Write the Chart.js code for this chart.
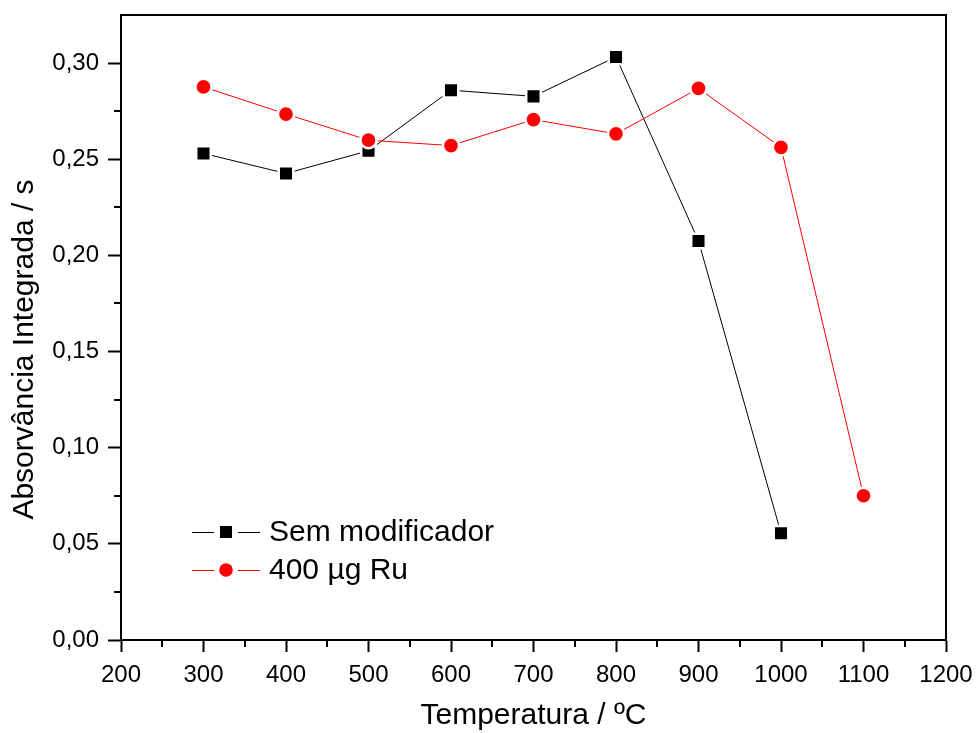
<!DOCTYPE html>
<html>
<head>
<meta charset="utf-8">
<script src="https://cdn.jsdelivr.net/npm/chart.js@4/dist/chart.umd.min.js"></script>
<style>
  html, body { margin: 0; padding: 0; background: #ffffff; }
  #wrap { width: 976px; height: 733px; }
</style>
</head>
<body>
<div id="wrap"><canvas id="c" width="976" height="733"></canvas></div>
<script>
// ---- data ----
const temperatures = [300, 400, 500, 600, 700, 800, 900, 1000, 1100];
const semModificador = [0.253, 0.2426, 0.2544, 0.2859, 0.2827, 0.3032, 0.2075, 0.0555, null];
const ru400 = [0.2876, 0.2735, 0.2599, 0.2571, 0.2706, 0.2632, 0.2868, 0.2562, 0.0750];
const seriesLabels = ['Sem modificador', '400 \u00B5g Ru'];
const xTickValues = [200, 300, 400, 500, 600, 700, 800, 900, 1000, 1100, 1200];
const yTickValues = [0.00, 0.05, 0.10, 0.15, 0.20, 0.25, 0.30];
const xTitle = 'Temperatura / \u00BAC';
const yTitle = 'Absorv\u00E2ncia Integrada / s';

const FONT = 'Arial, "Liberation Sans", Helvetica, sans-serif';

function toPoints(xs, ys) {
  const out = [];
  xs.forEach((x, i) => { if (ys[i] !== null && ys[i] !== undefined) out.push({x: x, y: ys[i]}); });
  return out;
}

const framePlugin = {
  id: 'frame',
  afterDraw(chart) {
    const ctx = chart.ctx;
    const a = chart.chartArea;
    ctx.save();
    ctx.strokeStyle = '#000';
    ctx.lineWidth = 2;
    ctx.strokeRect(a.left, a.top, a.right - a.left, a.bottom - a.top);
    // minor ticks at midpoints
    const xs = chart.scales.x, ys = chart.scales.y;
    for (let i = 0; i < xTickValues.length - 1; i++) {
      const v = (xTickValues[i] + xTickValues[i + 1]) / 2;
      const px = Math.round(xs.getPixelForValue(v));
      ctx.beginPath(); ctx.moveTo(px, a.bottom); ctx.lineTo(px, a.bottom + 7); ctx.stroke();
    }
    for (let i = 0; i < yTickValues.length - 1; i++) {
      const v = (yTickValues[i] + yTickValues[i + 1]) / 2;
      const py = Math.round(ys.getPixelForValue(v));
      ctx.beginPath(); ctx.moveTo(a.left, py); ctx.lineTo(a.left - 7, py); ctx.stroke();
    }
    // y axis title (placed slightly below the axis centre, as in the original)
    ctx.fillStyle = '#000';
    ctx.font = '30px ' + FONT;
    ctx.textAlign = 'center';
    ctx.textBaseline = 'middle';
    ctx.translate(25, (a.top + a.bottom) / 2 + 22);
    ctx.rotate(-Math.PI / 2);
    ctx.fillText(yTitle, 0, 0);
    ctx.restore();
  }
};

const legendPlugin = {
  id: 'insideLegend',
  afterDraw(chart) {
    const ctx = chart.ctx;
    const a = chart.chartArea;
    const x0 = a.left + 71;
    const rows = [a.bottom - 108, a.bottom - 70];
    ctx.save();
    chart.data.datasets.forEach((ds) => {
      const y = rows[ds.legendRow];
      ctx.strokeStyle = ds.borderColor;
      ctx.lineWidth = 1;
      ctx.beginPath();
      ctx.moveTo(x0, y + 0.5); ctx.lineTo(x0 + 22, y + 0.5);
      ctx.moveTo(x0 + 46, y + 0.5); ctx.lineTo(x0 + 68, y + 0.5);
      ctx.stroke();
      ctx.fillStyle = ds.pointBackgroundColor;
      const cx = x0 + 34;
      if (ds.pointStyle === 'rect') {
        ctx.fillRect(cx - 6, y - 6, 12, 12);
      } else {
        ctx.beginPath(); ctx.arc(cx, y, 6.8, 0, Math.PI * 2); ctx.fill();
      }
      ctx.fillStyle = '#000';
      ctx.font = '30px ' + FONT;
      ctx.textBaseline = 'middle';
      ctx.textAlign = 'left';
      ctx.fillText(ds.label, x0 + 77, y + 1);
    });
    ctx.restore();
  }
};

new Chart(document.getElementById('c'), {
  type: 'line',
  data: {
    datasets: [
      {
        label: seriesLabels[0],
        data: toPoints(temperatures, semModificador),
        borderColor: '#000000',
        borderWidth: 1,
        pointStyle: 'rect',
        pointRadius: 10.3,
        pointBackgroundColor: '#000000',
        pointBorderColor: '#ffffff',
        pointBorderWidth: 2.5,
        order: 1,
        legendRow: 0,
        tension: 0
      },
      {
        label: seriesLabels[1],
        data: toPoints(temperatures, ru400),
        borderColor: '#ff0000',
        borderWidth: 1,
        pointStyle: 'circle',
        pointRadius: 8.1,
        pointBackgroundColor: '#ff0000',
        pointBorderColor: '#ffffff',
        pointBorderWidth: 2.5,
        order: 0,
        legendRow: 1,
        tension: 0
      }
    ]
  },
  options: {
    responsive: false,
    animation: false,
    events: [],
    layout: { padding: { top: 15, right: 30, left: 0, bottom: 0 } },
    plugins: { legend: { display: false }, tooltip: { enabled: false } },
    scales: {
      x: {
        type: 'linear',
        min: 200, max: 1200,
        afterBuildTicks(s) { s.ticks = xTickValues.map(v => ({value: v})); },
        afterFit(s) { s.height = 93; s.paddingLeft = 0; s.paddingRight = 0; s.paddingTop = 0; s.paddingBottom = 0; },
        grid: { drawOnChartArea: false, drawTicks: true, tickLength: 12, tickWidth: 2, tickColor: '#000' },
        border: { display: true, color: '#000', width: 2 },
        ticks: { color: '#000', font: { family: FONT, size: 24 }, padding: 9, maxRotation: 0, autoSkip: false,
          callback: v => String(v) },
        title: { display: true, text: xTitle, color: '#000', font: { family: FONT, size: 30 }, padding: { top: 0, bottom: -1 } }
      },
      y: {
        type: 'linear',
        min: 0, max: 0.325,
        afterBuildTicks(s) { s.ticks = yTickValues.map(v => ({value: v})); },
        afterFit(s) { s.width = 121; s.paddingLeft = 0; s.paddingRight = 0; s.paddingTop = 0; s.paddingBottom = 0; },
        grid: { drawOnChartArea: false, drawTicks: true, tickLength: 13, tickWidth: 2, tickColor: '#000' },
        border: { display: true, color: '#000', width: 2 },
        ticks: {
          color: '#000', font: { family: FONT, size: 24 }, padding: 9, autoSkip: false,
          callback: v => v.toFixed(2).replace('.', ',')
        },
        title: { display: false }
      }
    }
  },
  plugins: [framePlugin, legendPlugin]
});
</script>
</body>
</html>
